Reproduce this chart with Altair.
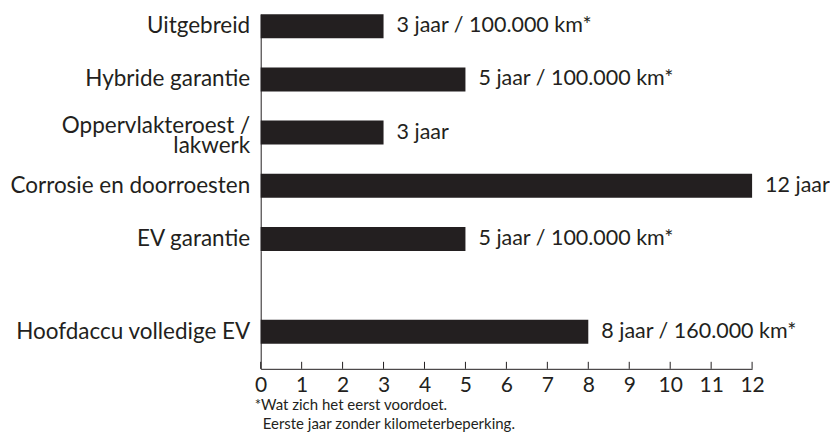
import altair as alt
import pandas as pd

# ---- data ----
categories_top = ["Uitgebreid", "Hybride garantie", "Oppervlakteroest / lakwerk",
                  "Corrosie en doorroesten", "EV garantie"]
years_top = [3, 5, 3, 12, 5]
labels_top = ["3 jaar / 100.000 km*", "5 jaar / 100.000 km*", "3 jaar",
              "12 jaar", "5 jaar / 100.000 km*"]

categories_bottom = ["Hoofdaccu volledige EV"]
years_bottom = [8]
labels_bottom = ["8 jaar / 160.000 km*"]

x_ticks = list(range(0, 13))
footnote_1 = "*Wat zich het eerst voordoet."
footnote_2 = "Eerste jaar zonder kilometerbeperking."

# ---- style ----
FONT = "Lato"
COLOR = "#231f20"
W = 492
H_TOP = 237
H_BOT = 118

x_scale = alt.Scale(domain=[0, 12], nice=False, zero=True)

MULTI = "Oppervlakteroest / lakwerk"
label_expr = (f"datum.label == '{MULTI}' ? "
              "['Oppervlakteroest /', 'lakwerk'] : datum.label")

y_axis = alt.Axis(domain=True, domainColor=COLOR, domainWidth=1, ticks=False, tickSize=0,
                  labelPadding=11, labelFont=FONT, labelFontSize=22.5, labelColor=COLOR,
                  labelAlign="right", labelLimit=0, labelLineHeight=20,
                  labelExpr=label_expr,
                  labelOffset={"condition": {"test": f"datum.label == '{MULTI}'", "value": -7},
                               "value": 0},
                  title=None)

# ---- top panel ----
top_df = pd.DataFrame({"cat": categories_top, "years": years_top, "label": labels_top})
y_top = alt.Y("cat:N", sort=categories_top, title=None,
              scale=alt.Scale(paddingInner=0.549, paddingOuter=0), axis=y_axis)
x_top = alt.X("years:Q", scale=x_scale, axis=None)

top_bars = alt.Chart(top_df).mark_bar(color=COLOR).encode(x=x_top, y=y_top)
top_text = alt.Chart(top_df).mark_text(
    align="left", baseline="middle", dx=13, font=FONT, fontSize=21.5, color=COLOR
).encode(x=x_top, y=y_top, text="label:N")
top = alt.layer(top_bars, top_text).properties(width=W, height=H_TOP)

# ---- bottom panel ----
bot_df = pd.DataFrame({"cat": categories_bottom, "years": years_bottom, "label": labels_bottom})
tick_df = pd.DataFrame({"t": x_ticks})
foot_df = pd.DataFrame({"line": [footnote_1, footnote_2]})

x_axis = alt.Axis(values=x_ticks, domain=True, domainColor=COLOR, domainWidth=1,
                  ticks=False, tickSize=0, labelPadding=6, labelFont=FONT,
                  labelFontSize=21, labelColor=COLOR, labelFlush=False, title=None,
                  format="d")
y_bot = alt.Y("cat:N", title=None,
              scale=alt.Scale(paddingInner=0.489, paddingOuter=1, align=0.734),
              axis=y_axis)
x_bot = alt.X("years:Q", scale=x_scale, axis=x_axis)

bot_bars = alt.Chart(bot_df).mark_bar(color=COLOR).encode(x=x_bot, y=y_bot)
bot_text = alt.Chart(bot_df).mark_text(
    align="left", baseline="middle", dx=13, font=FONT, fontSize=21.5, color=COLOR
).encode(x=x_bot, y=y_bot, text="label:N")
bot_ticks = alt.Chart(tick_df).mark_rule(color=COLOR, strokeWidth=1).encode(
    x=alt.X("t:Q", scale=x_scale, axis=x_axis),
    y=alt.value(H_BOT - 7), y2=alt.value(H_BOT))
foot1 = alt.Chart(foot_df).transform_filter(
    alt.datum.line == footnote_1
).mark_text(align="left", baseline="middle", font=FONT, fontSize=15, color=COLOR,
            dx=-6).encode(x=alt.value(0), y=alt.value(H_BOT + 36.5), text="line:N")
foot2 = alt.Chart(foot_df).transform_filter(
    alt.datum.line == footnote_2
).mark_text(align="left", baseline="middle", font=FONT, fontSize=15, color=COLOR,
            dx=2).encode(x=alt.value(0), y=alt.value(H_BOT + 55), text="line:N")

bottom = alt.layer(bot_bars, bot_text, bot_ticks, foot1, foot2).properties(
    width=W, height=H_BOT)

chart = alt.vconcat(top, bottom, spacing=0).properties(
    padding={"left": 1, "top": 6, "right": 0, "bottom": 0}
).configure_view(stroke=None).configure_axis(grid=False)

chart.save("out.html", embed_options={"renderer": "svg", "actions": False})
